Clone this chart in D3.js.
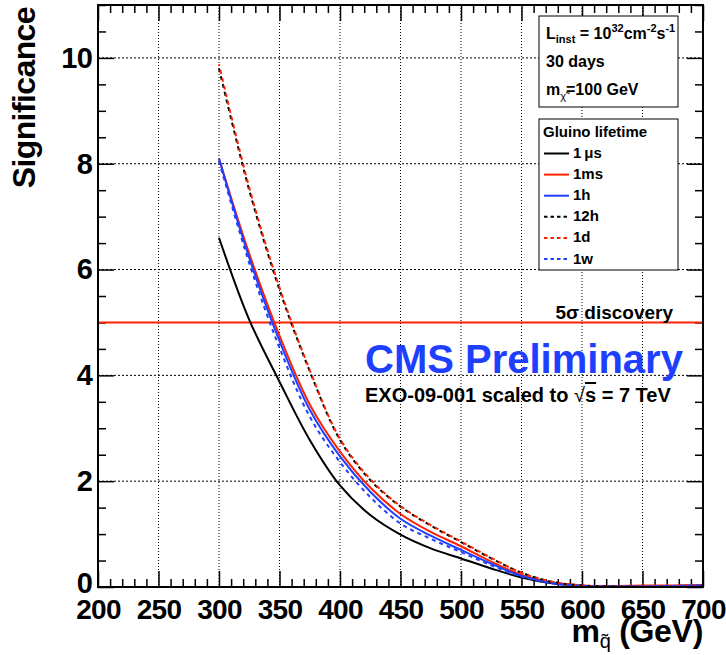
<!DOCTYPE html>
<html>
<head>
<meta charset="utf-8">
<script src="https://cdn.jsdelivr.net/npm/d3@7"></script>
<style>
  body { margin: 0; background: #fff; }
  text { font-family: "Liberation Sans", Arial, sans-serif; font-weight: bold; }
</style>
</head>
<body>
<script>
// gluino mass points (GeV)
const masses = [300, 325, 350, 375, 400, 425, 450, 475, 500, 525, 550, 575, 600, 625, 650, 675, 700];

// significance per gluino lifetime
const sig1us = [6.6, 5.05, 3.88, 2.78, 1.92, 1.36, 0.99, 0.73, 0.54, 0.35, 0.18, 0.07, 0.02, 0.0, 0.0, 0.0, 0.0];
const sig1ms = [8.1, 6.3, 4.75, 3.45, 2.56, 1.88, 1.38, 1.04, 0.77, 0.48, 0.23, 0.09, 0.03, 0.02, 0.03, 0.03, 0.04];
const sig1h  = [8.1, 6.22, 4.65, 3.35, 2.47, 1.8, 1.29, 0.97, 0.7, 0.44, 0.21, 0.08, 0.02, 0.01, 0.01, 0.02, 0.03];
const sig12h = [9.8, 7.5, 5.62, 4.08, 2.78, 2.02, 1.52, 1.16, 0.85, 0.54, 0.27, 0.1, 0.03, 0.01, 0.0, 0.0, 0.01];
const sig1d  = [9.88, 7.55, 5.66, 4.1, 2.8, 2.04, 1.53, 1.17, 0.86, 0.55, 0.27, 0.1, 0.03, 0.01, 0.01, 0.02, 0.03];
const sig1w  = [8.05, 6.12, 4.52, 3.22, 2.36, 1.7, 1.2, 0.91, 0.66, 0.41, 0.2, 0.07, 0.02, 0.01, 0.01, 0.02, 0.03];

const lifetimes = ["1\u2009\u03bcs", "1ms", "1h", "12h", "1d", "1w"];
const seriesValues = [sig1us, sig1ms, sig1h, sig12h, sig1d, sig1w];

const xTicks = [200, 250, 300, 350, 400, 450, 500, 550, 600, 650, 700];
const yTicks = [0, 2, 4, 6, 8, 10];
const discoveryLevel = 5;

// look of each series
const RED = "#ff2200", BLUE = "#1f3fff";
const styles = [
  { color: "#000", dash: null, offset: 0 },
  { color: RED, dash: null, offset: 0 },
  { color: BLUE, dash: null, offset: 0 },
  { color: "#000", dash: "4,4", offset: 0 },
  { color: RED, dash: "4,4", offset: 2 },
  { color: BLUE, dash: "4,4", offset: 0 }
];

const W = 726, H = 655;
const padL = 98, padR = 703, padT = 5, padB = 587;

const x = d3.scaleLinear().domain([200, 700]).range([padL, padR]);
const y = d3.scaleLinear().domain([0, 11]).range([padB, padT]);

const svg = d3.select("body").append("svg")
  .attr("width", W).attr("height", H);

svg.append("rect").attr("width", W).attr("height", H).attr("fill", "#fff");

svg.append("clipPath").attr("id", "plotclip")
  .append("rect").attr("x", padL).attr("y", padT)
  .attr("width", padR - padL).attr("height", padB - padT);

// dotted grid
svg.append("g").selectAll("line")
  .data(xTicks.filter(d => d > 200 && d < 700))
  .join("line")
  .attr("x1", d => x(d)).attr("x2", d => x(d))
  .attr("y1", padT).attr("y2", padB)
  .attr("stroke", "#000").attr("stroke-width", 1).attr("stroke-dasharray", "1,2");

svg.append("g").selectAll("line")
  .data(yTicks.filter(d => d > 0))
  .join("line")
  .attr("x1", padL).attr("x2", padR)
  .attr("y1", d => y(d)).attr("y2", d => y(d))
  .attr("stroke", "#000").attr("stroke-width", 1).attr("stroke-dasharray", "2,2");

// ticks (inward, ROOT style)
const xMinor = d3.range(200, 701, 10).filter(d => d % 50 !== 0);
const yMinor = d3.range(0, 11.01, 0.5).filter(d => d % 2 !== 0);

function tickGroup(axis, tr) {
  const g = svg.append("g").attr("transform", tr).call(axis);
  g.select(".domain").remove();
  g.selectAll(".tick line").attr("stroke-width", 1.5);
  return g;
}

function labelStyle(g, size) {
  g.selectAll("text").attr("font-size", size).attr("fill", "#000")
    .attr("letter-spacing", -0.8)
    .style("font-family", "'Liberation Sans', Arial, sans-serif").style("font-weight", "bold");
}

const xAxis = tickGroup(d3.axisBottom(x).tickValues(xTicks).tickSize(-16).tickPadding(12)
  .tickFormat(d3.format("d")), `translate(0,${padB})`);
labelStyle(xAxis, 28);

tickGroup(d3.axisBottom(x).tickValues(xMinor).tickSize(-8).tickFormat(""), `translate(0,${padB})`);
tickGroup(d3.axisTop(x).tickValues(xTicks).tickSize(-16).tickFormat(""), `translate(0,${padT})`);
tickGroup(d3.axisTop(x).tickValues(xMinor).tickSize(-8).tickFormat(""), `translate(0,${padT})`);

const yAxis = tickGroup(d3.axisLeft(y).tickValues(yTicks).tickSize(-16).tickPadding(6)
  .tickFormat(d3.format("d")), `translate(${padL},0)`);
labelStyle(yAxis, 29);
// the "0" sits a touch higher so it clears the "200" below it
yAxis.selectAll(".tick").filter(d => d === 0).select("text").attr("dy", "0.2em");

tickGroup(d3.axisLeft(y).tickValues(yMinor).tickSize(-8).tickFormat(""), `translate(${padL},0)`);
tickGroup(d3.axisRight(y).tickValues(yTicks).tickSize(-16).tickFormat(""), `translate(${padR},0)`);
tickGroup(d3.axisRight(y).tickValues(yMinor).tickSize(-8).tickFormat(""), `translate(${padR},0)`);

// 5 sigma line
svg.append("line")
  .attr("x1", padL).attr("x2", padR)
  .attr("y1", y(discoveryLevel)).attr("y2", y(discoveryLevel))
  .attr("stroke", RED).attr("stroke-width", 2);

svg.append("text").attr("x", 673).attr("y", 319).attr("text-anchor", "end")
  .attr("font-size", 19).text("5\u03c3 discovery");

// curves
const line = d3.line()
  .x((d, i) => x(masses[i]))
  .y(d => y(d))
  .curve(d3.curveCatmullRom.alpha(0.5));

const curves = svg.append("g").attr("clip-path", "url(#plotclip)");
seriesValues.forEach((vals, k) => {
  curves.append("path")
    .datum(vals)
    .attr("d", line)
    .attr("fill", "none")
    .attr("stroke", styles[k].color)
    .attr("stroke-width", 2)
    .attr("stroke-dasharray", styles[k].dash)
    .attr("stroke-dashoffset", styles[k].offset);
});

// frame
svg.append("rect")
  .attr("x", padL).attr("y", padT)
  .attr("width", padR - padL).attr("height", padB - padT)
  .attr("fill", "none").attr("stroke", "#000").attr("stroke-width", 2);

// CMS labels
svg.append("text").attr("x", 365).attr("y", 373).attr("fill", BLUE)
  .attr("font-size", 40).text("CMS Preliminary");

const exo = svg.append("text").attr("x", 365).attr("y", 402).attr("font-size", 20);
exo.append("tspan").text("EXO-09-001 scaled to ");
exo.append("tspan").style("font-weight", "normal").text("\u221a");
exo.append("tspan").style("text-decoration", "overline").text("s");
exo.append("tspan").text(" = 7 TeV");

// info box
svg.append("rect").attr("x", 539).attr("y", 16).attr("width", 139).attr("height", 91)
  .attr("fill", "#fff").attr("stroke", "#000").attr("stroke-width", 1);

const lumi = svg.append("text").attr("x", 546).attr("y", 39).attr("font-size", 16);
lumi.append("tspan").text("L");
lumi.append("tspan").attr("font-size", 11).attr("dy", 4).text("inst");
lumi.append("tspan").attr("dy", -4).text(" = 10");
lumi.append("tspan").attr("font-size", 11).attr("dy", -7).text("32");
lumi.append("tspan").attr("dy", 7).text("cm");
lumi.append("tspan").attr("font-size", 11).attr("dy", -7).text("-2");
lumi.append("tspan").attr("dy", 7).text("s");
lumi.append("tspan").attr("font-size", 11).attr("dy", -7).text("-1");

svg.append("text").attr("x", 546).attr("y", 67).attr("font-size", 16).text("30 days");

const mchi = svg.append("text").attr("x", 546).attr("y", 95).attr("font-size", 16);
mchi.append("tspan").text("m");
mchi.append("tspan").attr("font-size", 11).attr("dy", 5).style("font-weight", "normal").text("\u03c7\u0303");
mchi.append("tspan").attr("dy", -5).text("=100 GeV");

// legend
svg.append("rect").attr("x", 539).attr("y", 119).attr("width", 139).attr("height", 151)
  .attr("fill", "#fff").attr("stroke", "#000").attr("stroke-width", 1);
svg.append("text").attr("x", 543).attr("y", 137).attr("font-size", 15).text("Gluino lifetime");

const leg = svg.append("g").selectAll("g")
  .data(lifetimes)
  .join("g")
  .attr("transform", (d, i) => `translate(0,${158 + i * 21.1})`);
leg.append("line")
  .attr("x1", 544).attr("x2", 569).attr("y1", -4.5).attr("y2", -4.5)
  .attr("stroke", (d, i) => styles[i].color)
  .attr("stroke-width", 2)
  .attr("stroke-dasharray", (d, i) => styles[i].dash ? "3.5,3" : null);
leg.append("text").attr("x", 573).attr("y", 0).attr("font-size", 15).text(d => d);

// axis titles
svg.append("text")
  .attr("transform", "translate(35,7) rotate(-90)")
  .attr("text-anchor", "end")
  .attr("font-size", 32)
  .attr("letter-spacing", -0.6)
  .text("Significance");

const xt = svg.append("text").attr("x", 703).attr("y", 642).attr("text-anchor", "end")
  .attr("font-size", 32).attr("letter-spacing", -0.3);
xt.append("tspan").text("m");
xt.append("tspan").attr("font-size", 20).attr("dy", 6).style("font-weight", "normal").text("q\u0303");
xt.append("tspan").attr("dy", -6).text(" (GeV)");
</script>
</body>
</html>
